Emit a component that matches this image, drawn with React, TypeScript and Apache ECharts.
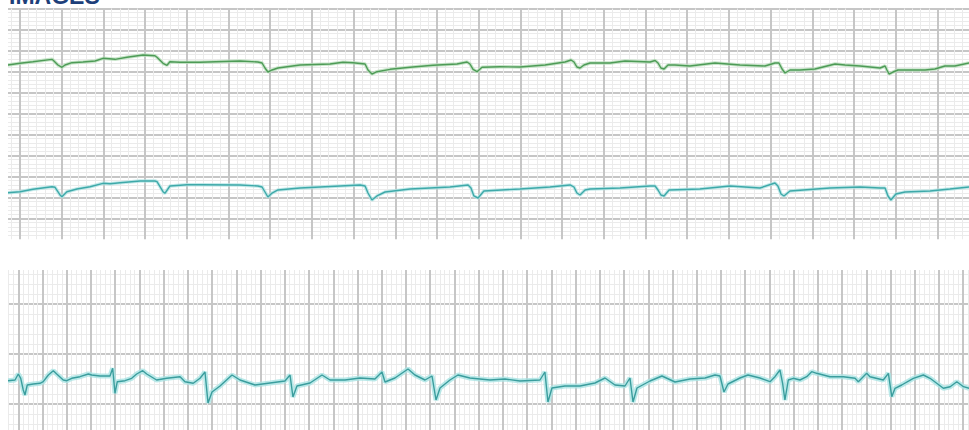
import React, { useEffect, useRef } from "react";
import * as echarts from "echarts";

// Top strip, upper lead (green): [time s, mV]
const leadUpper: [number, number][] = [
  [-0.058, 4.155], [0, 4.195], [0.062, 4.233], [0.153, 4.29], [0.158, 4.274], [0.182, 4.155],
  [0.201, 4.1], [0.216, 4.155], [0.249, 4.21], [0.302, 4.226], [0.36, 4.25], [0.398, 4.314],
  [0.456, 4.29], [0.513, 4.338], [0.59, 4.393], [0.647, 4.376], [0.657, 4.338], [0.686, 4.195],
  [0.705, 4.148], [0.719, 4.233], [0.767, 4.219], [0.863, 4.219], [1.055, 4.25], [1.141, 4.226],
  [1.161, 4.202], [1.175, 4.083], [1.189, 3.988], [1.209, 4.036], [1.237, 4.083], [1.343, 4.155],
  [1.487, 4.179], [1.549, 4.219], [1.597, 4.21], [1.655, 4.179], [1.669, 4.036], [1.688, 3.94],
  [1.712, 3.995], [1.775, 4.052], [1.871, 4.1], [1.981, 4.148], [2.096, 4.179], [2.144, 4.226],
  [2.158, 4.179], [2.173, 4.052], [2.192, 3.995], [2.216, 4.1], [2.302, 4.114], [2.398, 4.107],
  [2.518, 4.155], [2.614, 4.226], [2.643, 4.274], [2.657, 4.226], [2.671, 4.107], [2.686, 4.083],
  [2.705, 4.155], [2.734, 4.202], [2.83, 4.202], [2.902, 4.25], [3.022, 4.226], [3.046, 4.262],
  [3.06, 4.202], [3.074, 4.083], [3.089, 4.06], [3.108, 4.155], [3.141, 4.155], [3.213, 4.131],
  [3.333, 4.202], [3.453, 4.155], [3.573, 4.131], [3.621, 4.202], [3.64, 4.202], [3.655, 4.06],
  [3.669, 3.964], [3.693, 4.036], [3.741, 4.036], [3.813, 4.06], [3.909, 4.179], [3.957, 4.155],
  [4.029, 4.131], [4.125, 4.083], [4.149, 4.131], [4.158, 4.036], [4.168, 3.94], [4.187, 3.988],
  [4.211, 4.036], [4.341, 4.036], [4.388, 4.06], [4.436, 4.131], [4.484, 4.131], [4.552, 4.202],
];

// Top strip, lower lead (teal): [time s, mV]
const leadLower: [number, number][] = [
  [-0.058, 1.114], [0, 1.138], [0.062, 1.195], [0.153, 1.257], [0.168, 1.243], [0.192, 1.06],
  [0.201, 1.019], [0.225, 1.138], [0.273, 1.202], [0.336, 1.257], [0.398, 1.338], [0.432, 1.329],
  [0.48, 1.352], [0.576, 1.393], [0.647, 1.393], [0.657, 1.376], [0.686, 1.138], [0.695, 1.1],
  [0.719, 1.274], [0.801, 1.305], [0.863, 1.305], [1.055, 1.298], [1.141, 1.274], [1.161, 1.25],
  [1.175, 1.131], [1.189, 1.012], [1.209, 1.107], [1.237, 1.179], [1.343, 1.226], [1.535, 1.274],
  [1.631, 1.298], [1.655, 1.274], [1.669, 1.107], [1.688, 0.94], [1.712, 1.036], [1.751, 1.131],
  [1.871, 1.202], [2.062, 1.25], [2.149, 1.298], [2.163, 1.226], [2.177, 1.036], [2.197, 0.988],
  [2.225, 1.155], [2.398, 1.202], [2.542, 1.25], [2.638, 1.298], [2.657, 1.25], [2.671, 1.107],
  [2.686, 1.06], [2.71, 1.179], [2.734, 1.202], [2.878, 1.226], [3.022, 1.274], [3.046, 1.274],
  [3.06, 1.179], [3.074, 1.06], [3.089, 1.036], [3.113, 1.179], [3.261, 1.202], [3.405, 1.274],
  [3.549, 1.226], [3.621, 1.345], [3.635, 1.274], [3.65, 1.083], [3.664, 1.036], [3.693, 1.155],
  [3.885, 1.226], [4.029, 1.25], [4.125, 1.226], [4.149, 1.226], [4.163, 1.036], [4.177, 0.94],
  [4.201, 1.083], [4.245, 1.131], [4.365, 1.155], [4.46, 1.202], [4.552, 1.25],
];

// Bottom strip (teal): [time s, mV]
const leadRhythm: [number, number][] = [
  [-0.085, 0.733], [-0.027, 0.74], [0, 0.8], [0.02, 0.757], [0.041, 0.64], [0.055, 0.59],
  [0.074, 0.69], [0.124, 0.7], [0.179, 0.707], [0.206, 0.723], [0.248, 0.79], [0.289, 0.833],
  [0.317, 0.8], [0.371, 0.74], [0.4, 0.733], [0.441, 0.757], [0.509, 0.773], [0.578, 0.8],
  [0.606, 0.79], [0.674, 0.78], [0.757, 0.78], [0.779, 0.857], [0.798, 0.607], [0.817, 0.723],
  [0.881, 0.733], [0.936, 0.757], [0.977, 0.8], [1.027, 0.833], [1.06, 0.8], [1.142, 0.74],
  [1.225, 0.757], [1.335, 0.773], [1.376, 0.723], [1.444, 0.707], [1.5, 0.757], [1.541, 0.82],
  [1.566, 0.51], [1.599, 0.62], [1.665, 0.68], [1.764, 0.79], [1.83, 0.74], [1.954, 0.69],
  [2.078, 0.71], [2.201, 0.73], [2.243, 0.79], [2.267, 0.57], [2.3, 0.68], [2.408, 0.71],
  [2.507, 0.79], [2.573, 0.74], [2.697, 0.74], [2.82, 0.76], [2.944, 0.75], [3.002, 0.82],
  [3.027, 0.72], [3.109, 0.76], [3.217, 0.85], [3.274, 0.79], [3.357, 0.74], [3.415, 0.78],
  [3.448, 0.54], [3.481, 0.66], [3.563, 0.74], [3.629, 0.79], [3.728, 0.76], [3.894, 0.74],
  [4.017, 0.75], [4.141, 0.73], [4.306, 0.74], [4.347, 0.82], [4.372, 0.52], [4.405, 0.66],
  [4.512, 0.68], [4.636, 0.68], [4.76, 0.71], [4.843, 0.76], [4.925, 0.69], [5.008, 0.68],
  [5.049, 0.76], [5.074, 0.52], [5.107, 0.66], [5.214, 0.73], [5.313, 0.78], [5.421, 0.72],
  [5.545, 0.75], [5.669, 0.76], [5.751, 0.79], [5.792, 0.78], [5.825, 0.62], [5.858, 0.7],
  [5.957, 0.76], [6.023, 0.79], [6.122, 0.76], [6.205, 0.723], [6.246, 0.773], [6.287, 0.84],
  [6.309, 0.707], [6.328, 0.54], [6.356, 0.74], [6.397, 0.757], [6.452, 0.74], [6.508, 0.773],
  [6.549, 0.823], [6.59, 0.807], [6.7, 0.773], [6.81, 0.773], [6.907, 0.757], [6.934, 0.723],
  [7.003, 0.807], [7.03, 0.773], [7.14, 0.74], [7.182, 0.807], [7.21, 0.573], [7.237, 0.657],
  [7.292, 0.69], [7.388, 0.757], [7.471, 0.79], [7.526, 0.757], [7.636, 0.657], [7.692, 0.673],
  [7.747, 0.723], [7.802, 0.673], [7.849, 0.657],
];

const TITLE = "IMAGES";

const MAJOR = "#c6c6c6";
const MINOR = "#ebebeb";

function paperAxis(gridIndex: number, min: number, max: number, interval: number, minorSplit: number, hideMin: boolean) {
  return {
    type: "value",
    gridIndex,
    min,
    max,
    interval,
    axisLine: { show: false },
    axisTick: { show: false },
    axisLabel: { show: false },
    splitLine: { show: true, showMinLine: !hideMin, showMaxLine: true, lineStyle: { color: MAJOR, width: 2 } },
    minorTick: { show: false, splitNumber: minorSplit },
    minorSplitLine: { show: true, lineStyle: { color: MINOR, width: 1 } },
  };
}

function trace(data: [number, number][], idx: number, color: string, halo: string, haloWidth: number) {
  return [
    {
      type: "line",
      xAxisIndex: idx,
      yAxisIndex: idx,
      data,
      showSymbol: false,
      symbol: "none",
      silent: true,
      lineStyle: { color: halo, width: haloWidth, opacity: 0.8 },
      z: 2,
    },
    {
      type: "line",
      xAxisIndex: idx,
      yAxisIndex: idx,
      data,
      showSymbol: false,
      symbol: "none",
      silent: true,
      lineStyle: { color, width: 1.4 },
      z: 3,
    },
  ];
}

export default function App() {
  const ref = useRef<HTMLDivElement>(null);
  useEffect(() => {
    if (!ref.current) return;
    const chart = echarts.init(ref.current, null, { renderer: "svg" });
    chart.setOption({
      animation: false,
      grid: [
        { left: -21.7, top: 8.5, width: 1000.8, height: 231, containLabel: false, outerBoundsMode: "none" },
        { left: -5.93, top: 254, width: 993.4, height: 200, containLabel: false, outerBoundsMode: "none" },
      ],
      xAxis: [
        paperAxis(0, -0.2, 4.6, 0.2, 5, false),
        paperAxis(1, -0.2, 8.0, 0.2, 5, false),
      ],
      yAxis: [
        paperAxis(0, 0, 5.5, 0.5, 5, true),
        paperAxis(1, 0, 2.0, 0.5, 5, false),
      ],
      series: [
        ...trace(leadUpper, 0, "#4e9b57", "#b9dfbc", 3.5),
        ...trace(leadLower, 0, "#3ea9a9", "#b3e3e3", 3.5),
        ...trace(leadRhythm, 1, "#3a9d9d", "#a9e3e3", 5),
      ],
      graphic: [
        { type: "rect", z: 100, shape: { x: 0, y: 0, width: 8, height: 430 }, style: { fill: "#ffffff" }, silent: true },
        { type: "rect", z: 100, shape: { x: 0, y: 0, width: 969, height: 8 }, style: { fill: "#ffffff" }, silent: true },
        { type: "rect", z: 100, shape: { x: 0, y: 239.5, width: 969, height: 30.5 }, style: { fill: "#ffffff" }, silent: true },
        {
          type: "text",
          z: 101,
          left: 9,
          top: -16,
          style: {
            text: TITLE,
            fill: "#1d3f7a",
            font: "bold 23px 'Liberation Sans', Arial, sans-serif",
          },
          silent: true,
        },
      ],
    });
    return () => chart.dispose();
  }, []);
  return <div ref={ref} style={{ position: "absolute", left: 0, top: 0, width: 969, height: 430 }} />;
}
